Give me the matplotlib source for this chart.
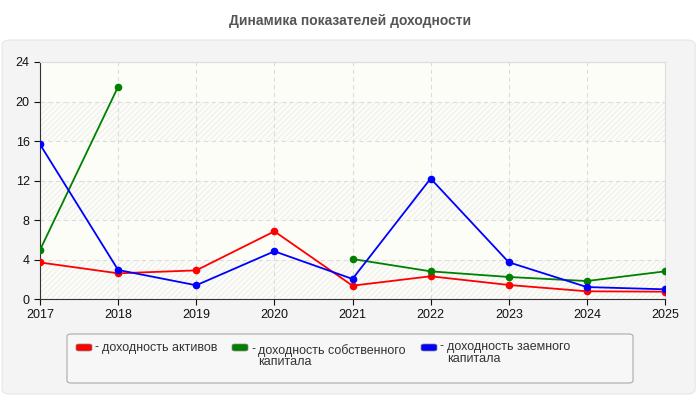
import numpy as np
import matplotlib.pyplot as plt
from matplotlib.patches import FancyBboxPatch

plt.rcParams['font.family'] = ['Liberation Sans', 'DejaVu Sans']

# данные
years = [2017, 2018, 2019, 2020, 2021, 2022, 2023, 2024, 2025]
dohod_aktivov = [3.7, 2.6, 2.9, 6.85, 1.35, 2.3, 1.42, 0.78, 0.74]
dohod_sobstv = [4.96, 21.5, None, None, 4.05, 2.8, 2.23, 1.82, 2.8]
dohod_zaemn = [15.66, 2.94, 1.39, 4.83, 2.03, 12.2, 3.72, 1.21, 0.98]
y_ticks = [0, 4, 8, 12, 16, 20, 24]

series = [
    ("доходность активов", dohod_aktivov, "#ff0000"),
    ("доходность собственного\nкапитала", dohod_sobstv, "#008000"),
    ("доходность заемного\nкапитала", dohod_zaemn, "#0000ff"),
]

fig = plt.figure(figsize=(7, 4), dpi=100)
fig.patch.set_facecolor("white")

# серая подложка
panel = FancyBboxPatch((0.003, 0.015), 0.99, 0.885, boxstyle="round,pad=0,rounding_size=0.012",
                       transform=fig.transFigure, facecolor="#f4f4f4", edgecolor="#e6e6e6",
                       lw=0.8, zorder=-10)
fig.patches.append(panel)

fig.text(0.5, 0.948, "Динамика показателей доходности", ha="center", va="center",
         fontsize=10, fontweight="bold", color="#555555")

ax = fig.add_axes([40 / 700, 1 - 299 / 400, 625 / 700, 237 / 400])
ax.set_facecolor("#fdfdf8")

# полосы со штриховкой
for lo in y_ticks[:-1:2]:
    ax.axhspan(lo, lo + 4, facecolor="none", edgecolor="#f0f0f0", hatch="//////", lw=0, zorder=0)

for label, vals, col in series:
    v = np.array([np.nan if x is None else x for x in vals], dtype=float)
    ax.plot(years, v, color=col, lw=1.3, marker="o", markersize=4.5, zorder=3)

ax.set_xlim(2017, 2025)
ax.set_ylim(0, 24)
ax.set_xticks(years)
ax.set_yticks(y_ticks)
ax.grid(True, color="#dcdcdc", linestyle=(0, (4, 3)), lw=0.8)
ax.set_axisbelow(True)
for s in ["top", "right"]:
    ax.spines[s].set_color("#dddddd")
for s in ["left", "bottom"]:
    ax.spines[s].set_color("#333333")
ax.tick_params(labelsize=9, colors="#111111", length=4, width=0.8)

# легенда
leg = FancyBboxPatch((67 / 700, 1 - 383 / 400), 566 / 700, 49 / 400,
                     boxstyle="round,pad=0,rounding_size=0.006", transform=fig.transFigure,
                     facecolor="#f7f7f7", edgecolor="#aaaaaa", lw=0.8)
fig.patches.append(leg)
leg_x = [76, 232, 421]
leg_top = [342, 344, 341]
for (label, vals, col), x, t in zip(series, leg_x, leg_top):
    fig.patches.append(FancyBboxPatch((x / 700, 1 - 351 / 400), 16 / 700, 7 / 400,
                                      boxstyle="round,pad=0,rounding_size=0.004",
                                      transform=fig.transFigure, facecolor=col,
                                      edgecolor="#888888", lw=0.5))
    fig.text((x + 19) / 700, 1 - (t - 1) / 400, "-", ha="left", va="top",
             fontsize=9, color="#333333")
    fig.text((x + 26) / 700, 1 - t / 400, label, ha="left", va="top",
             fontsize=9, color="#333333", linespacing=0.95)

fig.savefig("out.png", dpi=100)
